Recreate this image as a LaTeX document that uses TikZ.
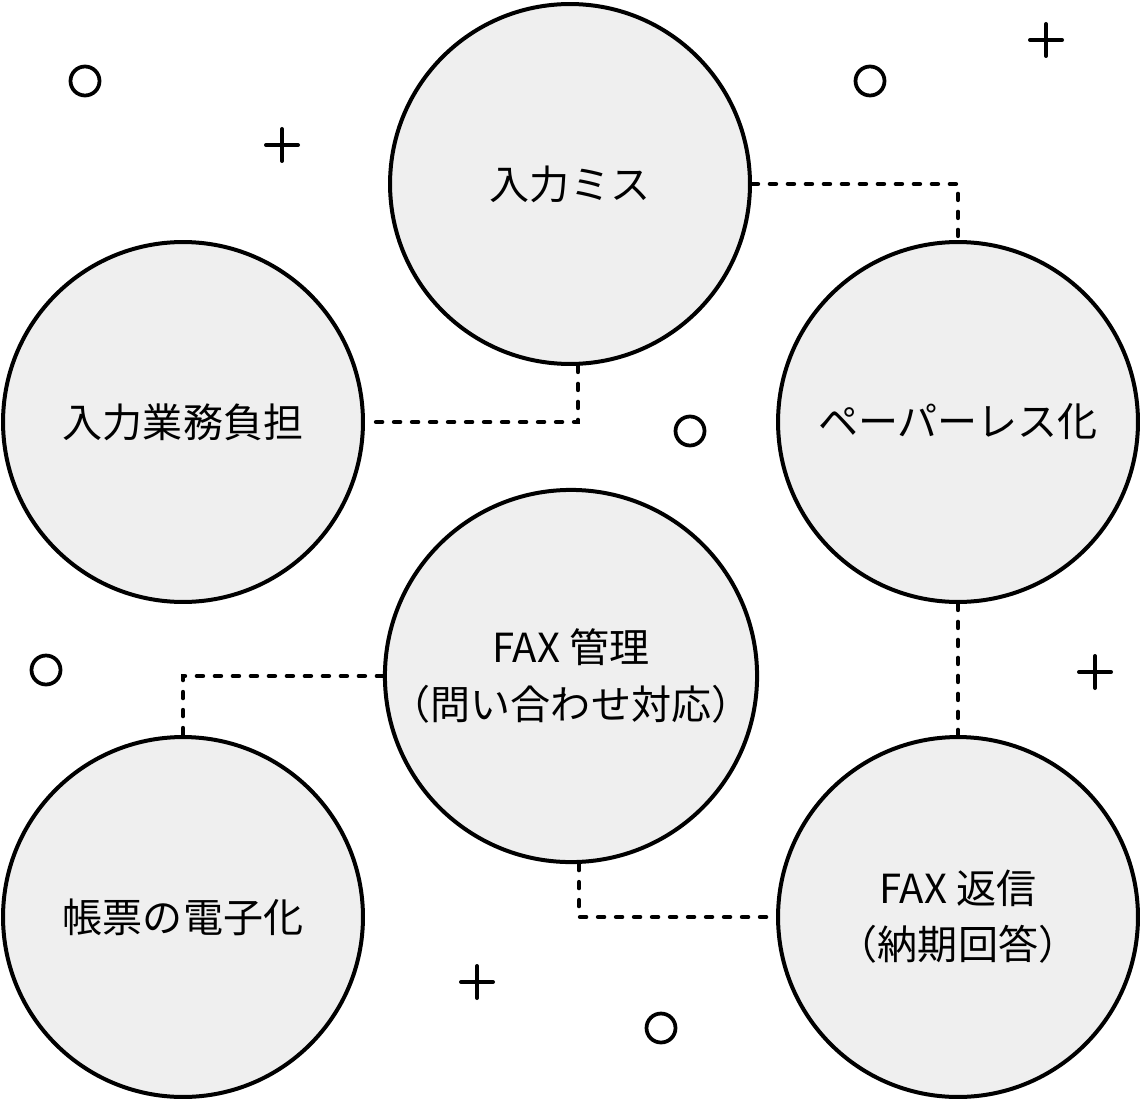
\documentclass[tikz,border=0pt]{standalone}
\usepackage{fontspec}
\setmainfont{Noto Sans CJK JP}
\definecolor{bubblegray}{HTML}{EFEFEF}
\begin{document}
\begin{tikzpicture}[x=0.02cm,y=-0.02cm,
  bubble/.style={circle, draw=black, fill=bubblegray, line width=0.08cm, minimum size=7.2cm, inner sep=0pt, align=center, font=\fontsize{22.8pt}{32pt}\selectfont},
  link/.style={line width=0.09cm, line cap=round, dash pattern=on 0.12cm off 0.24cm},
  deco/.style={line width=0.08cm, line cap=round}]
  \useasboundingbox (0,0) rectangle (1141,1101);
  \node[bubble] (miss) at (570,184) {入力ミス};
  \node[bubble] (futan) at (183,422) {入力業務負担};
  \node[bubble] (paper) at (958,422) {ペーパーレス化};
  \node[bubble] (kanri) at (571,676) {FAX 管理\\（問い合わせ対応）};
  \node[bubble] (chohyo) at (183,917) {帳票の電子化};
  \node[bubble] (henshin) at (958,917) {FAX 返信\\（納期回答）};
  \draw[link] (miss.east) -| (paper.north);
  \draw[link] ([xshift=0.16cm]miss.south) |- (futan.east);
  \draw[link] (paper.south) -- (henshin.north);
  \draw[link] (kanri.west) -| (chohyo.north);
  \draw[link] ([xshift=0.16cm]kanri.south) |- (henshin.west);
  % small rings and crosses
  \foreach \px/\py in {85/81, 870/81, 690/431, 46/670, 661/1028}
    \draw[line width=0.075cm] (\px,\py) circle (0.29cm);
  \foreach \px/\py in {1046/40, 282/145, 1095/672, 477/982}
    \draw[deco] (\px-16,\py) -- (\px+16,\py) (\px,\py-16) -- (\px,\py+16);
\end{tikzpicture}
\end{document}
